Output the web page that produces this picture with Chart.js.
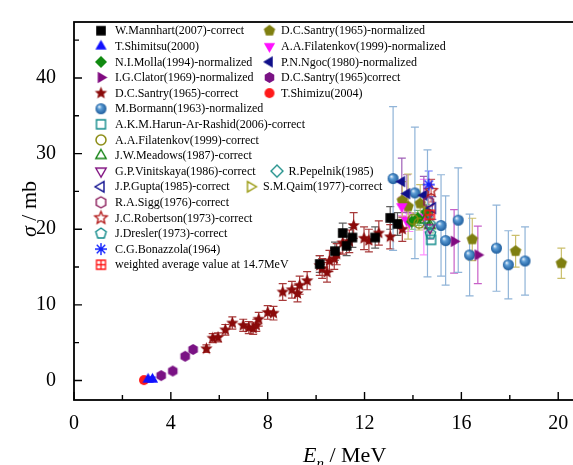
<!DOCTYPE html>
<html>
<head>
<meta charset="utf-8">
<script src="https://cdn.jsdelivr.net/npm/chart.js@4.4.0/dist/chart.umd.min.js"></script>
<style>
  html, body { margin: 0; padding: 0; overflow: hidden; background: #fff; }
  #wrap { width: 640px; height: 465px; }
</style>
</head>
<body>
<div id="wrap"><canvas id="chart" width="640" height="465"></canvas></div>
<script>
// axis ticks
const xMajor = [0, 4, 8, 12, 16, 20]
const xMinor = [2, 6, 10, 14, 18]
const yMajor = [0, 10, 20, 30, 40]
const yMinor = [5, 15, 25, 35, 45]

// W.Mannhart(2007)-correct
const mannhartE = [10.15, 10.78, 11.1, 11.26, 11.5, 12.44, 13.06, 13.36]
const mannhartS = [15.4, 17.1, 19.5, 17.8, 18.9, 18.9, 21.5, 20.7]
const mannhartErr = [1.1, 1.2, 1.3, 1.3, 1.3, 1.4, 1.5, 1.5]
// T.Shimitsu(2000)
const shimitsuE = [3.06, 3.24]
const shimitsuS = [0.15, 0.15]
const shimitsuErr = [0.3, 0.3]
// N.I.Molla(1994)-normalized
const mollaE = [13.95, 14.2, 14.55]
const mollaS = [21.0, 21.5, 22.3]
const mollaErr = [1.0, 1.0, 1.0]
// I.G.Clator(1969)-normalized
const clatorE = [15.7, 16.68]
const clatorS = [18.4, 16.6]
const clatorErr = [4.2, 3.8]
// D.C.Santry(1965)-correct (stars)
const santryE = [5.47, 5.73, 5.95, 6.25, 6.54, 6.99, 7.22, 7.4, 7.53, 7.63, 8.0, 8.24, 8.62, 9.0, 9.23, 9.32, 9.63,
  10.15, 10.25, 10.45, 10.55, 10.75, 10.85, 11.1, 11.37, 11.55, 11.98, 12.18, 12.59, 13.06, 13.56]
const santryS = [4.2, 5.6, 5.7, 6.7, 7.6, 7.3, 7.0, 6.9, 7.3, 8.1, 9.0, 8.9, 11.7, 12.0, 11.5, 12.6, 13.2,
  15.2, 14.8, 14.3, 15.8, 16.1, 16.7, 18.2, 18.4, 20.5, 18.8, 18.5, 19.5, 19.0, 20.0]
const santryErr = [0.5, 0.6, 0.6, 0.7, 0.8, 0.8, 0.8, 0.8, 0.8, 0.9, 0.9, 0.9, 1.1, 1.1, 1.1, 1.2, 1.2,
  1.3, 1.3, 1.3, 1.4, 1.4, 1.4, 1.5, 1.5, 1.7, 1.5, 1.5, 1.6, 1.6, 1.6]
// M.Bormann(1963)-normalized
const bormannE = [13.18, 14.08, 14.6, 15.16, 15.35, 15.87, 16.34, 17.45, 17.94, 18.63]
const bormannS = [26.7, 24.8, 22.1, 20.5, 18.5, 21.2, 16.6, 17.5, 15.3, 15.8]
const bormannErr = [9.5, 8.7, 8.4, 6.7, 5.9, 6.9, 5.4, 5.7, 4.5, 4.5]
// A.K.M.Harun-Ar-Rashid(2006)-correct
const harunE = [14.75]
const harunS = [18.6]
// A.A.Filatenkov(1999)-correct
const filatCorE = [14.0, 14.25]
const filatCorS = [21.3, 20.8]
const filatCorErr = [0.9, 0.9]
// J.W.Meadows(1987)-correct
const meadowsE = [14.5, 14.7]
const meadowsS = [21.2, 20.5]
const meadowsErr = [1.0, 1.0]
// G.P.Vinitskaya(1986)-correct
const vinitE = [14.7]
const vinitS = [20.2]
const vinitErr = [1.5]
// J.P.Gupta(1985)-correct
const guptaE = [14.8]
const guptaS = [22.8]
const guptaErr = [1.5]
// R.A.Sigg(1976)-correct
const siggE = [14.65]
const siggS = [23.6]
const siggErr = [2.0]
// J.C.Robertson(1973)-correct
const robertE = [14.75]
const robertS = [25.1]
const robertErr = [1.5]
// J.Dresler(1973)-correct
const dreslerE = [14.72]
const dreslerS = [19.4]
// C.G.Bonazzola(1964)
const bonazE = [14.65]
const bonazS = [25.9]
const bonazErr = [1.8]
// weighted average value at 14.7MeV
const avgE = [14.7]
const avgS = [21.9]
// D.C.Santry(1965)-normalized
const santryNormE = [13.56, 13.8, 14.3, 16.45, 18.24, 20.13]
const santryNormS = [23.8, 23.0, 23.4, 18.65, 17.1, 15.5]
const santryNormErr = [2.5, 4.3, 2.5, 2.8, 2.1, 2.0]
// A.A.Filatenkov(1999)-normalized
const filatNormE = [13.54, 13.73, 13.85, 14.45]
const filatNormS = [23.0, 21.2, 20.9, 21.6]
const filatNormErr = [1.2, 1.2, 1.2, 5.0]
// P.N.Ngoc(1980)-normalized
const ngocE = [13.54, 13.75, 14.45]
const ngocS = [26.3, 24.7, 24.5]
const ngocErr = [3.1, 2.5, 2.5]
// D.C.Santry(1965)correct (hexagons)
const santryHexE = [3.6, 4.08, 4.59, 4.92]
const santryHexS = [0.65, 1.25, 3.2, 4.1]
// T.Shimizu(2004)
const shimizuE = [2.89]
const shimizuS = [0.05]
// R.Pepelnik(1985)
const pepelE = [14.68]
const pepelS = [20.8]
const pepelErr = [1.2]
// S.M.Qaim(1977)-correct
const qaimE = [14.6]
const qaimS = [22.3]

// marker images
function makeMarker(shape, r, fill, stroke, lw) {
  lw = lw || 0
  const pad = Math.ceil(lw) + 1
  const s = Math.ceil(2 * r + 2 * pad)
  const c = document.createElement('canvas')
  c.width = c.height = s
  const g = c.getContext('2d')
  const cx = s / 2, cy = s / 2
  g.lineWidth = lw
  g.lineJoin = 'miter'
  if (stroke) g.strokeStyle = stroke
  if (fill) g.fillStyle = fill
  const poly = (n, rot, rr) => {
    g.beginPath()
    for (let i = 0; i < n; i++) {
      const a = rot + i * 2 * Math.PI / n
      const px = cx + rr * Math.cos(a), py = cy + rr * Math.sin(a)
      i ? g.lineTo(px, py) : g.moveTo(px, py)
    }
    g.closePath()
  }
  switch (shape) {
    case 'square': g.beginPath(); g.rect(cx - r, cy - r, 2 * r, 2 * r); break
    case 'circle': g.beginPath(); g.arc(cx, cy, r, 0, 2 * Math.PI); break
    case 'up': poly(3, -Math.PI / 2, r); break
    case 'down': poly(3, Math.PI / 2, r); break
    case 'left': poly(3, Math.PI, r); break
    case 'right': poly(3, 0, r); break
    case 'diamond': poly(4, -Math.PI / 2, r); break
    case 'pent': poly(5, -Math.PI / 2, r); break
    case 'hex': poly(6, -Math.PI / 2, r); break
    case 'star':
      g.beginPath()
      for (let i = 0; i < 10; i++) {
        const rr = i % 2 ? r * 0.45 : r
        const a = -Math.PI / 2 + i * Math.PI / 5
        const px = cx + rr * Math.cos(a), py = cy + rr * Math.sin(a)
        i ? g.lineTo(px, py) : g.moveTo(px, py)
      }
      g.closePath()
      break
    case 'asterisk':
      g.beginPath()
      for (let i = 0; i < 4; i++) {
        const a = i * Math.PI / 4
        g.moveTo(cx - r * Math.cos(a), cy - r * Math.sin(a))
        g.lineTo(cx + r * Math.cos(a), cy + r * Math.sin(a))
      }
      g.stroke()
      return c
    case 'sqplus':
      g.beginPath()
      g.rect(cx - r, cy - r, 2 * r, 2 * r)
      g.moveTo(cx, cy - r); g.lineTo(cx, cy + r)
      g.moveTo(cx - r, cy); g.lineTo(cx + r, cy)
      g.stroke()
      return c
    case 'sphere': {
      const gr = g.createRadialGradient(cx - r * 0.35, cy - r * 0.4, r * 0.05, cx, cy, r)
      gr.addColorStop(0, '#eef5fc')
      gr.addColorStop(0.35, '#5c9dd6')
      gr.addColorStop(1, '#1d5c9c')
      g.fillStyle = gr
      g.beginPath(); g.arc(cx, cy, r, 0, 2 * Math.PI); g.fill()
      return c
    }
  }
  if (fill) g.fill()
  if (stroke) g.stroke()
  return c
}

function series(label, E, S, err, marker, errColor, slot) {
  return {
    label,
    data: E.map((x, i) => ({ x, y: S[i] })),
    err, errColor, slot,
    pointStyle: marker,
    pointRadius: 5,
    showLine: false
  }
}

const datasets = [
  series('weighted average value at 14.7MeV', avgE, avgS, null, makeMarker('sqplus', 4.5, null, '#ff1010', 1.3), null, [0, 15]),
  series('C.G.Bonazzola(1964)', bonazE, bonazS, bonazErr, makeMarker('asterisk', 6, null, '#1020ff', 1.4), '#6070ff', [0, 14]),
  series('J.C.Robertson(1973)-correct', robertE, robertS, robertErr, makeMarker('star', 6.5, null, '#b01010', 1.3), '#d06060', [0, 12]),
  series('J.P.Gupta(1985)-correct', guptaE, guptaS, guptaErr, makeMarker('left', 6, null, '#101090', 1.4), '#7070c0', [0, 10]),
  series('R.A.Sigg(1976)-correct', siggE, siggS, siggErr, makeMarker('hex', 5.5, null, '#8a1a5a', 1.4), '#c080a0', [0, 11]),
  series('R.Pepelnik(1985)', pepelE, pepelS, pepelErr, makeMarker('diamond', 6, null, '#20908a', 1.4), '#80c0c0', [2, 9]),
  series('J.Dresler(1973)-correct', dreslerE, dreslerS, null, makeMarker('pent', 5.5, null, '#108a8a', 1.4), null, [0, 13]),
  series('A.K.M.Harun-Ar-Rashid(2006)-correct', harunE, harunS, null, makeMarker('square', 4.5, null, '#108a8a', 1.4), null, [0, 6]),
  series('G.P.Vinitskaya(1986)-correct', vinitE, vinitS, vinitErr, makeMarker('down', 6, null, '#801080', 1.4), '#c080c0', [0, 9]),
  series('J.W.Meadows(1987)-correct', meadowsE, meadowsS, meadowsErr, makeMarker('up', 6, null, '#108010', 1.4), '#80c080', [0, 8]),
  series('S.M.Qaim(1977)-correct', qaimE, qaimS, null, makeMarker('right', 6, null, '#9a9a10', 1.4), null, [3, 10]),
  series('A.A.Filatenkov(1999)-correct', filatCorE, filatCorS, filatCorErr, makeMarker('circle', 5, null, '#8a8a10', 1.5), '#c8c070', [0, 7]),
  series('N.I.Molla(1994)-normalized', mollaE, mollaS, mollaErr, makeMarker('diamond', 6, '#108a10', null, 0), '#70b070', [0, 2]),
  series('A.A.Filatenkov(1999)-normalized', filatNormE, filatNormS, filatNormErr, makeMarker('down', 6.5, '#ff10ff', null, 0), '#ff90ff', [1, 1]),
  series('P.N.Ngoc(1980)-normalized', ngocE, ngocS, ngocErr, makeMarker('left', 6.5, '#10108a', null, 0), '#a060b8', [1, 2]),
  series('W.Mannhart(2007)-correct', mannhartE, mannhartS, mannhartErr, makeMarker('square', 4.8, '#000', null, 0), '#606060', [0, 0]),
  series('D.C.Santry(1965)-correct', santryE, santryS, santryErr, makeMarker('star', 6.5, '#8a0a0a', null, 0), '#a83a3a', [0, 4]),
  series('D.C.Santry(1965)-normalized', santryNormE, santryNormS, santryNormErr, makeMarker('pent', 6, '#7f7f10', null, 0), '#cbbf6c', [1, 0]),
  series('I.G.Clator(1969)-normalized', clatorE, clatorS, clatorErr, makeMarker('right', 6.5, '#800a80', null, 0), '#c860c8', [0, 3]),
  series('M.Bormann(1963)-normalized', bormannE, bormannS, bormannErr, makeMarker('sphere', 5.5), '#90b4d8', [0, 5]),
  series('D.C.Santry(1965)correct', santryHexE, santryHexS, null, makeMarker('hex', 5.5, '#7a1284', null, 0), null, [1, 3]),
  series('T.Shimitsu(2000)', shimitsuE, shimitsuS, shimitsuErr, makeMarker('up', 6.5, '#1010ff', null, 0), '#6060ff', [0, 1]),
  series('T.Shimizu(2004)', shimizuE, shimizuS, null, makeMarker('circle', 5, '#ff1a1a', null, 0), null, [1, 4])
]

// legend column anchors: marker x, text x
const legendCols = [{ m: 101, t: 115 }, { m: 269.5, t: 281 }, { m: 277, t: 288.5 }, { m: 250.5, t: 263 }]

const serif = "'Liberation Serif', 'Times New Roman', serif"

const errorBars = {
  id: 'errorBars',
  beforeDatasetsDraw(chart) {
    const { ctx, scales: { x, y } } = chart
    ctx.save()
    ctx.lineWidth = 1.2
    chart.data.datasets.forEach(ds => {
      if (!ds.err) return
      ctx.strokeStyle = ds.errColor
      ds.data.forEach((p, i) => {
        const e = ds.err[i]
        if (!e) return
        const px = x.getPixelForValue(p.x)
        const top = y.getPixelForValue(p.y + e)
        const bot = y.getPixelForValue(p.y - e)
        ctx.beginPath()
        ctx.moveTo(px, top); ctx.lineTo(px, bot)
        ctx.moveTo(px - 4, top); ctx.lineTo(px + 4, top)
        ctx.moveTo(px - 4, bot); ctx.lineTo(px + 4, bot)
        ctx.stroke()
      })
    })
    ctx.restore()
  }
}

const frame = {
  id: 'frame',
  afterDraw(chart) {
    const { ctx, chartArea: a, scales: { x, y } } = chart
    ctx.save()
    ctx.strokeStyle = '#000'
    ctx.lineWidth = 1.8
    ctx.strokeRect(a.left, a.top, a.right - a.left, a.bottom - a.top)

    // inward ticks
    ctx.lineWidth = 1.4
    ctx.beginPath()
    xMajor.forEach(v => { const p = x.getPixelForValue(v); ctx.moveTo(p, a.bottom); ctx.lineTo(p, a.bottom - 8) })
    xMinor.forEach(v => { const p = x.getPixelForValue(v); ctx.moveTo(p, a.bottom); ctx.lineTo(p, a.bottom - 5) })
    yMajor.forEach(v => { const p = y.getPixelForValue(v); ctx.moveTo(a.left, p); ctx.lineTo(a.left + 8, p) })
    yMinor.forEach(v => { const p = y.getPixelForValue(v); ctx.moveTo(a.left, p); ctx.lineTo(a.left + 5, p) })
    ctx.stroke()

    // axis titles
    ctx.fillStyle = '#000'
    ctx.textBaseline = 'alphabetic'
    ctx.textAlign = 'left'
    let tx = 303
    ctx.font = 'italic 22px ' + serif
    ctx.fillText('E', tx, 462)
    tx += ctx.measureText('E').width
    ctx.font = 'italic 15px ' + serif
    ctx.fillText('n', tx, 468)
    tx += ctx.measureText('n').width
    ctx.font = '22px ' + serif
    ctx.fillText(' / MeV', tx, 462)

    ctx.save()
    ctx.translate(36, 237)
    ctx.rotate(-Math.PI / 2)
    ctx.font = 'italic 22px ' + serif
    ctx.fillText('σ', 0, 0)
    const w = ctx.measureText('σ').width
    ctx.font = '22px ' + serif
    ctx.fillText(' / mb', w, 0)
    ctx.restore()

    // legend
    ctx.font = '12px ' + serif
    ctx.textBaseline = 'middle'
    chart.data.datasets.forEach(ds => {
      const col = legendCols[ds.slot[0]]
      const ly = 30.7 + 15.6 * ds.slot[1]
      const img = ds.pointStyle
      ctx.drawImage(img, col.m - img.width / 2, ly - img.height / 2)
      ctx.fillText(ds.label, col.t, ly + 0.5)
    })
    ctx.restore()
  }
}

new Chart(document.getElementById('chart'), {
  type: 'scatter',
  data: { datasets },
  options: {
    responsive: false,
    animation: false,
    layout: { padding: { top: 12, left: 0, right: 0, bottom: 0 } },
    plugins: { legend: { display: false }, tooltip: { enabled: false } },
    scales: {
      x: {
        type: 'linear', min: 0, max: 23.13,
        grid: { display: false }, border: { display: false },
        afterBuildTicks: s => { s.ticks = xMajor.map(v => ({ value: v })) },
        afterFit: s => { s.height = 65 },
        ticks: { font: { family: serif, size: 20 }, color: '#000', padding: 4, maxRotation: 0, autoSkip: false }
      },
      y: {
        type: 'linear', min: -2.58, max: 47.4,
        grid: { display: false }, border: { display: false },
        afterBuildTicks: s => { s.ticks = yMajor.map(v => ({ value: v })) },
        afterFit: s => { s.width = 74 },
        ticks: { font: { family: serif, size: 20 }, color: '#000', padding: 10, autoSkip: false }
      }
    }
  },
  plugins: [errorBars, frame]
})
</script>
</body>
</html>
